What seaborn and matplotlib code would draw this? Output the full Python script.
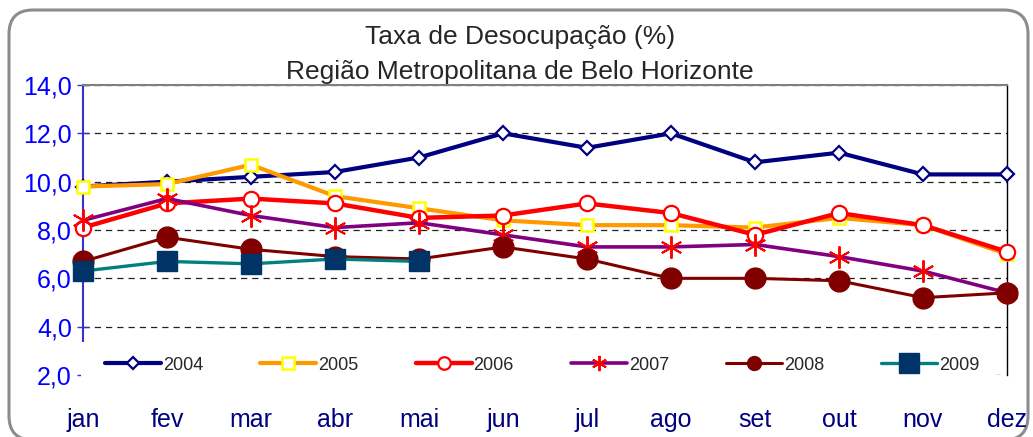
import matplotlib
matplotlib.use('Agg')
import matplotlib.pyplot as plt
import matplotlib.patches as mpatches
from matplotlib.lines import Line2D
from matplotlib.transforms import IdentityTransform
import seaborn as sns

# === Data ===
months = ['jan', 'fev', 'mar', 'abr', 'mai', 'jun', 'jul', 'ago', 'set', 'out', 'nov', 'dez']
y2004 = [9.8, 10.0, 10.2, 10.4, 11.0, 12.0, 11.4, 12.0, 10.8, 11.2, 10.3, 10.3]
y2005 = [9.8, 9.9, 10.7, 9.4, 8.9, 8.4, 8.2, 8.2, 8.1, 8.5, 8.2, 7.0]
y2006 = [8.1, 9.1, 9.3, 9.1, 8.5, 8.6, 9.1, 8.7, 7.8, 8.7, 8.2, 7.1]
y2007 = [8.4, 9.3, 8.6, 8.1, 8.3, 7.8, 7.3, 7.3, 7.4, 6.9, 6.3, 5.4]
y2008 = [6.7, 7.7, 7.2, 6.9, 6.8, 7.3, 6.8, 6.0, 6.0, 5.9, 5.2, 5.4]
y2009 = [6.3, 6.7, 6.6, 6.8, 6.7]
years = ['2004', '2005', '2006', '2007', '2008', '2009']
y_ticks = [2, 4, 6, 8, 10, 12, 14]

# === Styles per series ===
styles = {
    '2004': dict(color='#000080', lw=3.0, marker='D', ms=7.5, mfc='white', mec='#000080', mew=1.6),
    '2005': dict(color='#FF9900', lw=3.0, marker='s', ms=9, mfc='white', mec='#FFFF00', mew=1.8),
    '2006': dict(color='#FF0000', lw=3.2, marker='o', ms=11, mfc='white', mec='#FF0000', mew=1.6),
    '2007': dict(color='#800080', lw=2.6, marker=(6, 2, 0), ms=16, mfc='#FF0000', mec='#FF0000', mew=1.4),
    '2008': dict(color='#800000', lw=2.2, marker='o', ms=15, mfc='#800000', mec='#800000', mew=1),
    '2009': dict(color='#008080', lw=2.4, marker='s', ms=15, mfc='#003366', mec='#003366', mew=1),
}
legend_ms = {'2004': 6, '2005': 8, '2006': 9, '2007': 11, '2008': 10, '2009': 15}
series = dict(zip(years, [y2004, y2005, y2006, y2007, y2008, y2009]))

sns.set_style('white')
plt.rcParams['font.family'] = ['Liberation Sans', 'DejaVu Sans']

fig = plt.figure(figsize=(10.33, 4.37), dpi=100)
ax = fig.add_axes([83 / 1033, 1 - 375 / 437, 924 / 1033, 290 / 437])

# rounded outer border
border = mpatches.FancyBboxPatch((9, -3), 1019, 430, boxstyle='round,pad=0,rounding_size=24',
                                 transform=IdentityTransform(), fill=False,
                                 edgecolor='#8c8c8c', lw=2.2, zorder=-5)
fig.patches.append(border)

for yr in years:
    vals = series[yr]
    st = styles[yr]
    sns.lineplot(x=list(range(len(vals))), y=vals, ax=ax, sort=False,
                 color=st['color'], linewidth=st['lw'], marker=st['marker'],
                 markersize=st['ms'], markerfacecolor=st['mfc'],
                 markeredgecolor=st['mec'], markeredgewidth=st['mew'],
                 clip_on=False, zorder=3)

ax.set_xlim(0, len(months) - 1)
ax.set_ylim(2, 14)
ax.set_xticks(range(len(months)))
ax.set_xticklabels(months, color='#000080', fontsize=18)
ax.set_yticks(y_ticks)
ax.set_yticklabels([f'{v:.1f}'.replace('.', ',') for v in y_ticks], color='#0000FF', fontsize=18)
ax.tick_params(axis='x', length=0, pad=24)
ax.tick_params(axis='y', direction='inout', length=8, width=1, color='#3333CC', pad=4, left=True)
ax.set_xlabel('')
ax.set_ylabel('')

# dashed gridlines
ax.yaxis.grid(True, linestyle=(0, (5, 4)), color='#222222', lw=0.9)
ax.set_axisbelow(True)

ax.spines['left'].set_color('#3333CC')
ax.spines['left'].set_linewidth(1.5)
ax.spines['top'].set_color('#808080')
ax.spines['top'].set_linewidth(1.5)
ax.spines['right'].set_color('black')
ax.spines['right'].set_linewidth(1)
ax.spines['bottom'].set_visible(False)

# white band behind the legend (covers lower part of plot area)
band = mpatches.Rectangle((-0.002, -0.03), 0.99, 0.143, transform=ax.transAxes,
                          facecolor='white', edgecolor='none', zorder=9, clip_on=False)
ax.add_patch(band)

# legend
handles = [Line2D([], [], color=styles[yr]['color'], lw=styles[yr]['lw'],
                  marker=styles[yr]['marker'], ms=legend_ms[yr],
                  mfc=styles[yr]['mfc'], mec=styles[yr]['mec'], mew=styles[yr]['mew'])
           for yr in years]
leg = ax.legend(handles, years, ncol=6, loc='center left',
                bbox_to_anchor=(22 / 924, 0.034), frameon=False,
                fontsize=13, handlelength=3.1, handletextpad=0.1,
                columnspacing=3.17, borderaxespad=0, borderpad=0)
leg.set_zorder(10)

# title
fig.text(0.503, 1 - 37 / 437, 'Taxa de Desocupação (%)', ha='center', va='center', fontsize=19)
fig.text(0.503, 1 - 72 / 437, 'Região Metropolitana de Belo Horizonte', ha='center', va='center', fontsize=19)

plt.savefig('out.png', dpi=100)
